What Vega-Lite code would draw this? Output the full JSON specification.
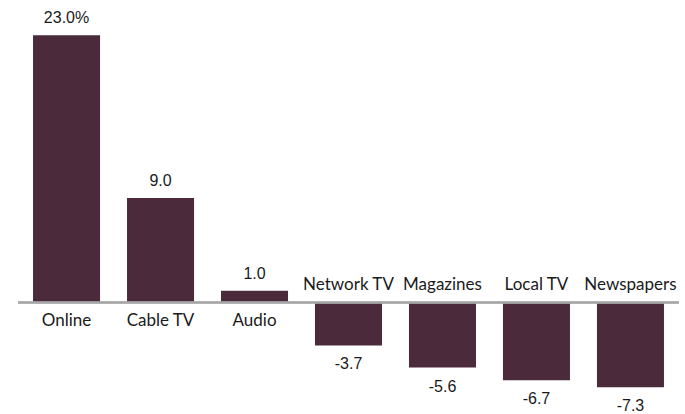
{
  "$schema": "https://vega.github.io/schema/vega-lite/v6.json",
  "width": 661,
  "height": 395,
  "autosize": {"type": "none"},
  "padding": {"left": 18, "top": 12, "right": 6, "bottom": 7},
  "background": "white",
  "config": {"view": {"stroke": null}},
  "data": {
    "values": [
      {"medium": "Online", "change": 23.0, "label": "23.0%"},
      {"medium": "Cable TV", "change": 9.0, "label": "9.0"},
      {"medium": "Audio", "change": 1.0, "label": "1.0"},
      {"medium": "Network TV", "change": -3.7, "label": "-3.7"},
      {"medium": "Magazines", "change": -5.6, "label": "-5.6"},
      {"medium": "Local TV", "change": -6.7, "label": "-6.7"},
      {"medium": "Newspapers", "change": -7.3, "label": "-7.3"}
    ]
  },
  "encoding": {
    "x": {"field": "medium", "type": "nominal", "sort": null, "axis": null,
          "scale": {"paddingInner": 0.287, "paddingOuter": 0.16}}
  },
  "layer": [
    {
      "mark": {"type": "bar", "color": "#4B2A3B"},
      "encoding": {
        "y": {"field": "change", "type": "quantitative", "axis": null,
              "scale": {"domain": [-9, 25], "nice": false, "zero": true}}
      }
    },
    {
      "mark": {"type": "rule", "color": "#A6A6A6", "strokeWidth": 1.5},
      "encoding": {"y": {"datum": 0}, "x": null}
    },
    {
      "transform": [{"filter": "datum.change >= 0"}],
      "mark": {"type": "text", "baseline": "alphabetic", "dy": -12, "font": "Liberation Sans", "fontSize": 16, "color": "#1a1a1a"},
      "encoding": {"y": {"field": "change", "type": "quantitative"}, "text": {"field": "label"}}
    },
    {
      "transform": [{"filter": "datum.change < 0"}],
      "mark": {"type": "text", "baseline": "alphabetic", "dy": 24, "font": "Liberation Sans", "fontSize": 16, "color": "#1a1a1a"},
      "encoding": {"y": {"field": "change", "type": "quantitative"}, "text": {"field": "label"}}
    },
    {
      "transform": [{"filter": "datum.change >= 0"}],
      "mark": {"type": "text", "baseline": "alphabetic", "dy": 24, "font": "Lato", "fontSize": 17, "color": "#1a1a1a"},
      "encoding": {"y": {"datum": 0}, "text": {"field": "medium"}}
    },
    {
      "transform": [{"filter": "datum.change < 0"}],
      "mark": {"type": "text", "baseline": "alphabetic", "dy": -12, "font": "Lato", "fontSize": 17, "color": "#1a1a1a"},
      "encoding": {"y": {"datum": 0}, "text": {"field": "medium"}}
    }
  ]
}
